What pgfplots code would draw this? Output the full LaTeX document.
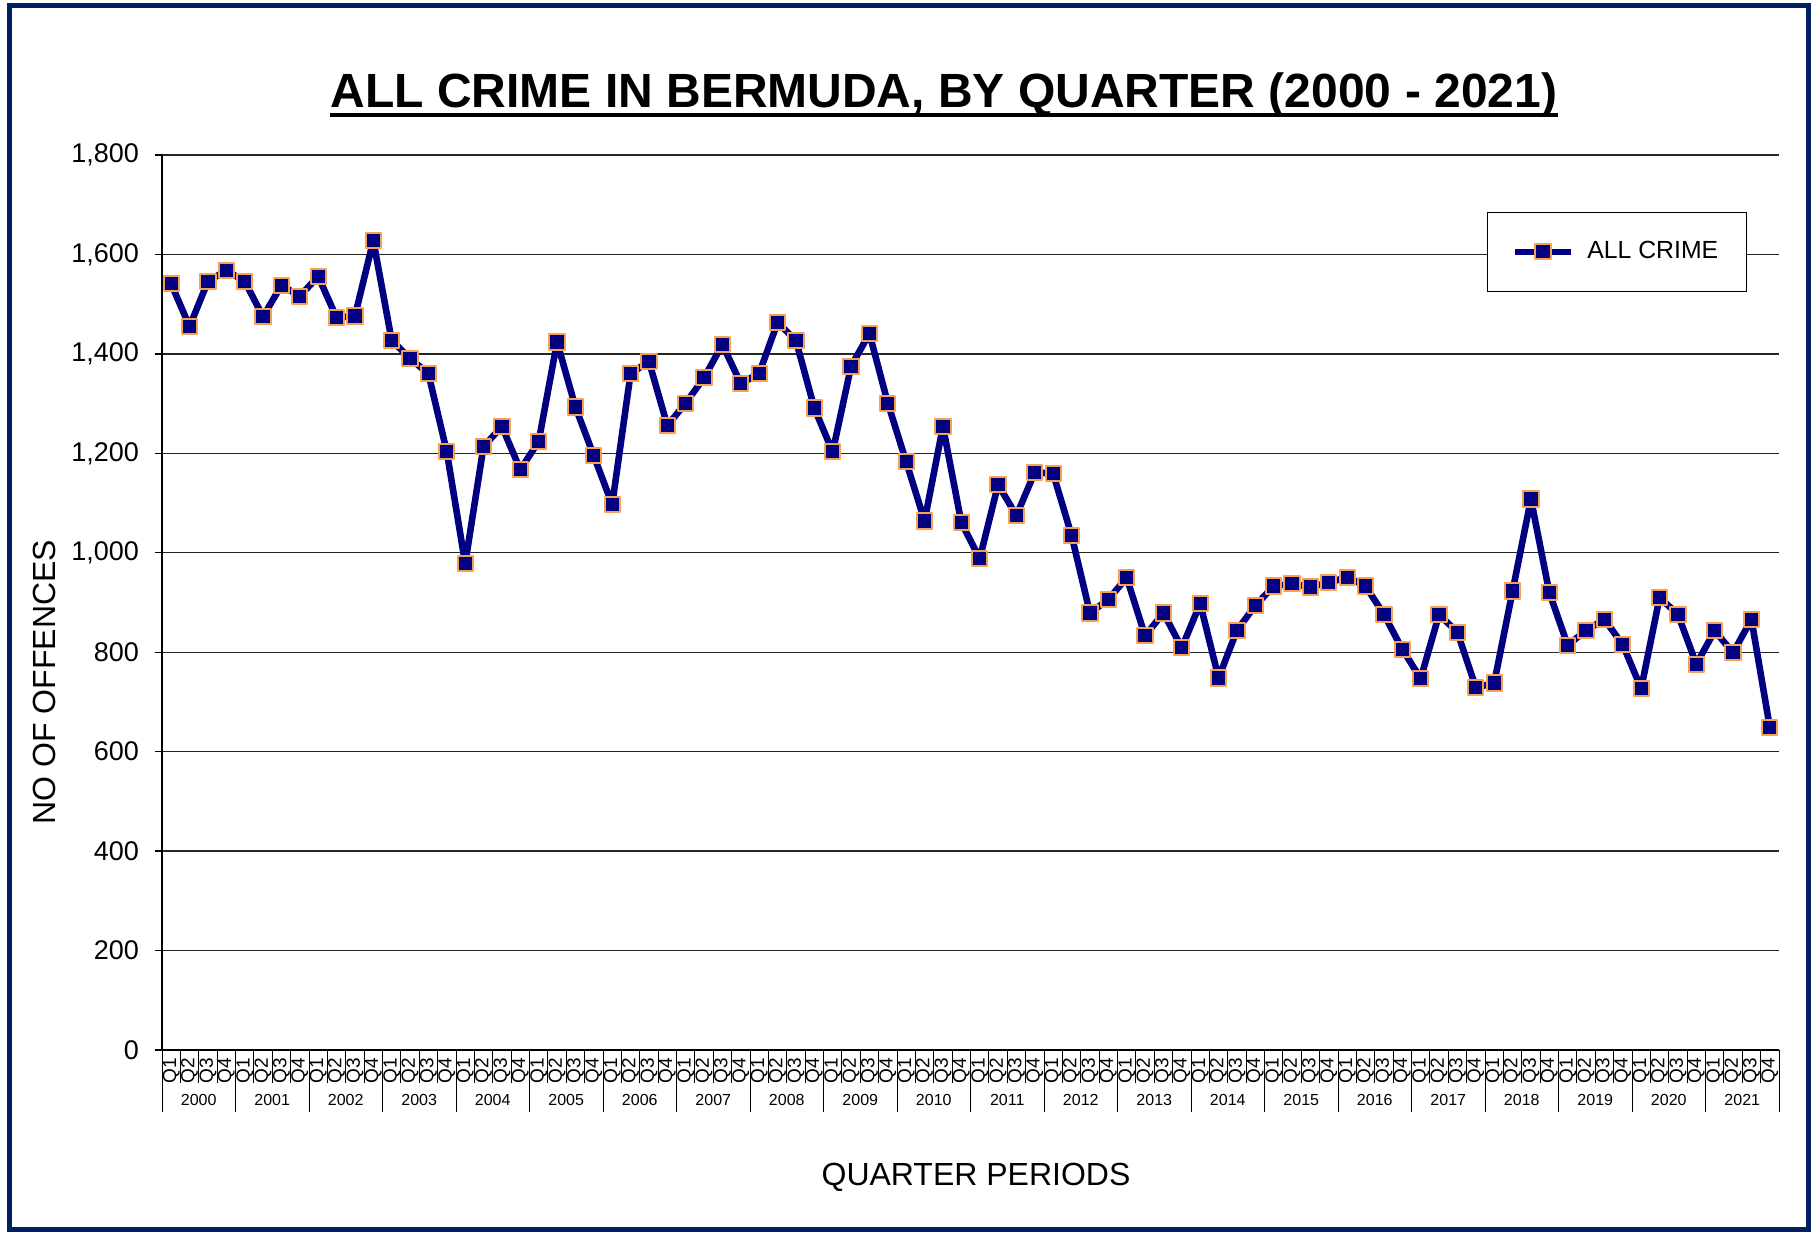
\documentclass[border=0pt]{standalone}
\usepackage{pgfplots}
\pgfplotsset{compat=1.18}
\usepackage{pgfplotstable}
\usepackage{fontspec}
\setmainfont{Liberation Sans}
\definecolor{navyline}{RGB}{0,0,128}
\definecolor{mkorange}{RGB}{248,160,80}
\definecolor{frameblue}{RGB}{0,32,96}

\pgfplotstableread{
q v
0 1541
1 1455
2 1546
3 1568
4 1546
5 1475
6 1538
7 1516
8 1556
9 1473
10 1476
11 1628
12 1427
13 1391
14 1360
15 1203
16 978
17 1214
18 1254
19 1167
20 1224
21 1424
22 1293
23 1195
24 1097
25 1360
26 1385
27 1256
28 1301
29 1352
30 1419
31 1340
32 1361
33 1463
34 1427
35 1291
36 1203
37 1375
38 1441
39 1301
40 1183
41 1064
42 1254
43 1061
44 988
45 1137
46 1075
47 1162
48 1159
49 1035
50 879
51 906
52 950
53 833
54 879
55 809
56 898
57 748
58 844
59 894
60 933
61 938
62 931
63 940
64 951
65 933
66 876
67 806
68 747
69 876
70 840
71 729
72 738
73 923
74 1108
75 920
76 814
77 844
78 866
79 815
80 727
81 910
82 876
83 776
84 843
85 799
86 866
87 649
}\crimedata

\begin{document}
\begin{tikzpicture}[x=0.5pt,y=0.5pt]
\fill[white] (0,0) rectangle (1815,1233);
\draw[frameblue, line width=2.5pt] (9,4) rectangle (1808,1227);
\node[anchor=base west, inner sep=0, font=\fontsize{24}{28}\selectfont\bfseries] (title) at (330,1125) {ALL CRIME IN BERMUDA, BY QUARTER (2000 - 2021)};
\draw[line width=2pt] ([yshift=-3.5pt]title.base west) -- ([yshift=-3.5pt]title.base east);
\begin{axis}[
 at={(81pt,91.5pt)}, anchor=south west,
 scale only axis, width=808.5pt, height=447.5pt,
 xmin=0, xmax=88, ymin=0, ymax=1800,
 axis x line*=bottom, axis y line*=left,
 axis line style={black, line width=0.7pt},
 ytick={0,200,...,1800},
 ymajorgrids, major grid style={black!85, line width=0.7pt},
 tick align=outside, major tick length=3.5pt,
 tick style={black, line width=0.7pt},
 yticklabel style={font=\fontsize{13.5}{16}\selectfont, xshift=-4.5pt},
 /pgf/number format/assume math mode=true,
 /pgf/number format/1000 sep={,},
 xtick={0.5,1.5,...,87.5},
 xticklabel={\pgfmathparse{int(mod(\ticknum,4)+1)}Q\pgfmathresult},
 xticklabel style={rotate=90, anchor=east, font=\fontsize{9.5}{10}\selectfont, inner sep=0.5pt},
 every major x tick/.append style={draw=none},
 minor xtick={0,1,...,88},
 minor tick length=16.5pt,
 every minor tick/.append style={black, line width=0.5pt},
 clip=false,
 legend style={at={(0.980,0.936)}, anchor=north east, draw=black, fill=white,
   font=\fontsize{12.4}{14}\selectfont, inner xsep=12pt, inner ysep=12.5pt,
   /tikz/every odd column/.style={column sep=4.5pt}},
 legend image code/.code={\draw[#1, mark repeat=2, mark phase=2] plot coordinates {(0pt,0pt) (14pt,0pt) (28pt,0pt)};},
]
\addplot[navyline, line width=3.3pt, line join=round, mark=square*, mark size=3.8pt,
  mark options={fill=navyline, draw=mkorange, line width=1pt, solid}]
  table[x expr=\thisrow{q}+0.5, y=v] {\crimedata};
\addlegendentry{ALL CRIME}
\pgfplotsinvokeforeach{0,4,...,88}{\draw[black, line width=0.5pt] (axis cs:#1,0) -- ++(0,-31pt);}
\pgfplotsinvokeforeach{0,...,21}{\node[font=\fontsize{8}{9}\selectfont] at (axis cs:{4*#1+2},0) [yshift=-25pt] {\pgfmathparse{int(2000+#1)}\pgfmathresult};}
\end{axis}
\node[rotate=90, font=\fontsize{16}{19}\selectfont] at (44,551) {NO OF OFFENCES};
\node[font=\fontsize{16}{19}\selectfont] at (976,56) {QUARTER PERIODS};
\end{tikzpicture}
\end{document}
